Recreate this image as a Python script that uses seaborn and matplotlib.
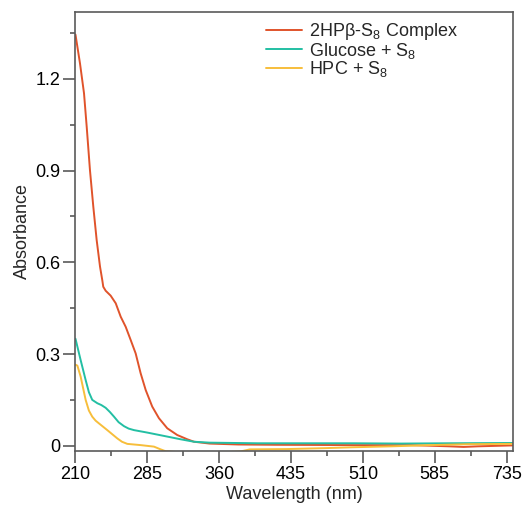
import numpy as np
import pandas as pd
import matplotlib
matplotlib.use("Agg")
import matplotlib.pyplot as plt
import seaborn as sns
from matplotlib.ticker import FixedLocator, FixedFormatter

# ---------------- data ----------------
series_names = ["2HPβ-S$_8$ Complex", "Glucose + S$_8$", "HPC + S$_8$"]
series_colors = ["#E0532B", "#23BFA3", "#F7BE3B"]

red_wl = [210, 214.7, 218.9, 221.7, 225.1, 228.6, 232.1, 235.6, 238.0, 239.0,
          241.5, 246.7, 252.0, 257.2, 262.4, 267.6, 272.8, 278.0, 283.3, 290.1,
          297.1, 305.8, 316.2, 326.7, 333.7, 350, 380, 420, 500, 560, 600, 615,
          630, 666.3]
red_abs = [1.345, 1.251, 1.153, 1.044, 0.902, 0.782, 0.673, 0.586, 0.541, 0.520,
           0.507, 0.491, 0.466, 0.422, 0.389, 0.346, 0.302, 0.237, 0.182, 0.128,
           0.090, 0.057, 0.035, 0.021, 0.013, 0.007, 0.004, 0.003, 0.002, 0.002,
           -0.002, -0.004, -0.002, 0.001]

teal_wl = [210, 215.4, 220.6, 224.0, 227.5, 232.8, 237.0, 241.5, 246.0, 250.2,
           255.0, 260.6, 265.5, 271.1, 284.9, 302.4, 319.8, 333.7, 350, 400, 450,
           500, 550, 600, 666.3]
teal_abs = [0.350, 0.280, 0.215, 0.175, 0.150, 0.139, 0.133, 0.124, 0.110, 0.095,
            0.077, 0.064, 0.056, 0.051, 0.043, 0.032, 0.021, 0.013, 0.010, 0.008,
            0.008, 0.008, 0.007, 0.008, 0.009]

yellow_wl = [210, 212, 215.4, 220.6, 224.0, 227.5, 231.0, 234.5, 243.2, 253.6,
             258.5, 264.1, 278.0, 291.9, 298.9, 304, 320, 350, 382, 392, 430, 470,
             500, 540, 580, 620, 666.3]
yellow_abs = [0.265, 0.262, 0.226, 0.150, 0.115, 0.095, 0.082, 0.073, 0.051, 0.024,
              0.013, 0.006, 0.002, -0.003, -0.012, -0.018, -0.022, -0.023, -0.019,
              -0.012, -0.011, -0.008, -0.005, -0.002, 0.002, 0.005, 0.006]

x_ticks = [210, 285, 360, 435, 510, 585, 660]
x_tick_labels = ["210", "285", "360", "435", "510", "585", "735"]
y_ticks = [0, 0.3, 0.6, 0.9, 1.2]
y_tick_labels = ["0", "0.3", "0.6", "0.9", "1.2"]

# ---------------- build table ----------------
df = pd.concat([
    pd.DataFrame({"Wavelength": red_wl, "Absorbance": red_abs, "Sample": series_names[0]}),
    pd.DataFrame({"Wavelength": teal_wl, "Absorbance": teal_abs, "Sample": series_names[1]}),
    pd.DataFrame({"Wavelength": yellow_wl, "Absorbance": yellow_abs, "Sample": series_names[2]}),
], ignore_index=True)

# ---------------- style ----------------
sns.set_style("ticks")
plt.rcParams["font.family"] = ["Liberation Sans", "DejaVu Sans"]
plt.rcParams["mathtext.fontset"] = "custom"
plt.rcParams["mathtext.rm"] = "Liberation Sans"
plt.rcParams["mathtext.it"] = "Liberation Sans:italic"
plt.rcParams["mathtext.bf"] = "Liberation Sans:bold"

spine_col = "#5a5a5a"

fig = plt.figure(figsize=(5.22, 5.08), dpi=100)
ax = fig.add_axes([0.1446, 0.1122, 0.8376, 0.8642])

sns.lineplot(data=df, x="Wavelength", y="Absorbance", hue="Sample",
             hue_order=series_names, palette=series_colors, estimator=None,
             linewidth=1.4, ax=ax)

ax.set_xlim(210, 666.3)
ax.set_ylim(-0.0173, 1.419)

ax.xaxis.set_major_locator(FixedLocator(x_ticks))
ax.xaxis.set_major_formatter(FixedFormatter(x_tick_labels))
ax.xaxis.set_minor_locator(FixedLocator([247.5, 322.5, 397.5, 472.5, 547.5, 622.5]))
ax.yaxis.set_major_locator(FixedLocator(y_ticks))
ax.yaxis.set_major_formatter(FixedFormatter(y_tick_labels))
ax.yaxis.set_minor_locator(FixedLocator([0.15, 0.45, 0.75, 1.05, 1.35]))

for s in ax.spines.values():
    s.set_visible(True)
    s.set_color(spine_col)
    s.set_linewidth(1.2)

ax.tick_params(axis="both", which="major", direction="out", length=8.6, width=1.2,
               color=spine_col, labelsize=13, labelcolor="black", pad=2.5)
ax.tick_params(axis="both", which="minor", direction="out", length=3.8, width=1.2,
               color=spine_col)

ax.set_xlabel("Wavelength (nm)", fontsize=13, labelpad=1.5)
ax.set_ylabel("Absorbance", fontsize=13, labelpad=3)

sns.move_legend(ax, loc="upper left", bbox_to_anchor=(266 / 522, (508 - 21) / 508),
                bbox_transform=fig.transFigure, frameon=False, title=None,
                fontsize=13, handlelength=2.0, handletextpad=0.39,
                labelspacing=-0.08, borderpad=0, borderaxespad=0)

fig.savefig("out.png", dpi=100)
